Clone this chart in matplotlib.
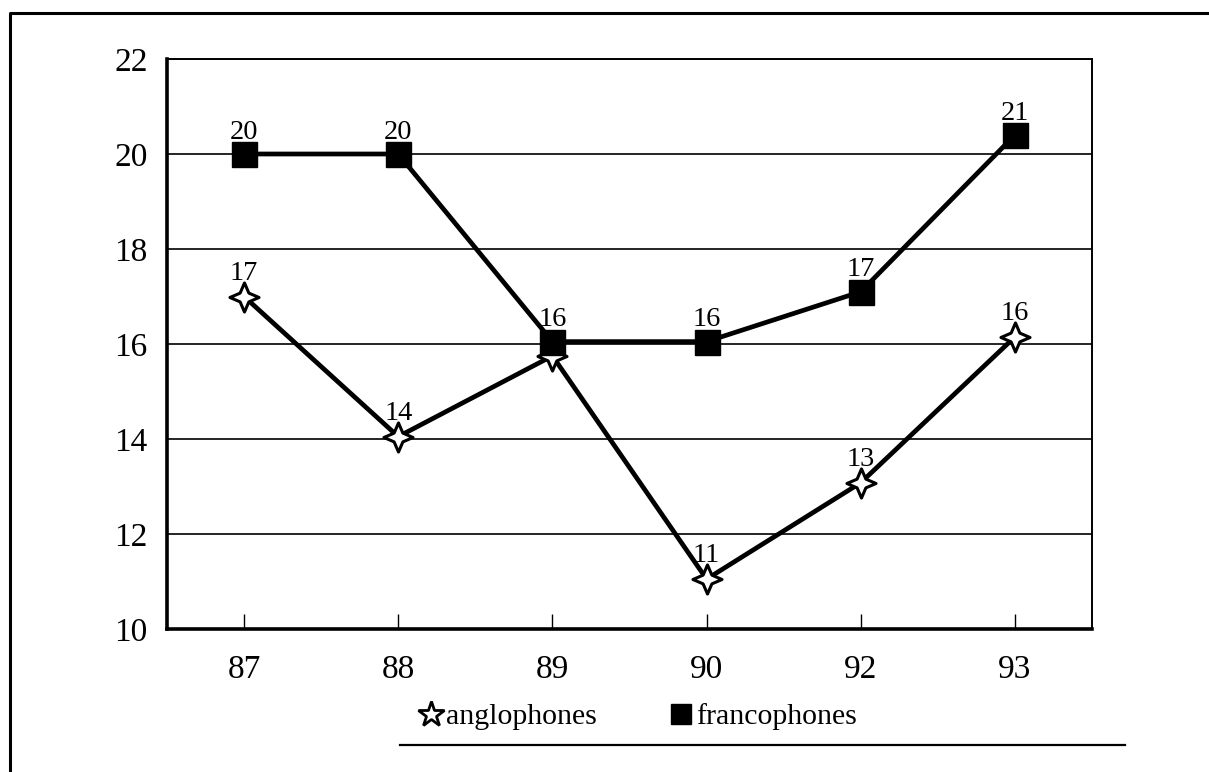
import matplotlib
matplotlib.use("Agg")
import matplotlib.pyplot as plt
from matplotlib.path import Path
from matplotlib.lines import Line2D

plt.rcParams['font.family'] = ['Liberation Serif', 'DejaVu Serif']

# data
years = ['87', '88', '89', '90', '92', '93']
anglophones = [17.0, 14.05, 15.75, 11.05, 13.08, 16.15]
francophones = [20.0, 20.0, 16.05, 16.05, 17.1, 20.4]
anglo_labels = ['17', '14', '', '11', '13', '16']
franco_labels = ['20', '20', '16', '16', '17', '21']
y_ticks = [10, 12, 14, 16, 18, 20, 22]

# four-pointed star marker
s = 0.3
star4 = Path([(0, 1), (s, s), (1, 0), (s, -s), (0, -1), (-s, -s), (-1, 0), (-s, s), (0, 1)],
             [Path.MOVETO] + [Path.LINETO] * 7 + [Path.CLOSEPOLY])

fig = plt.figure(figsize=(12.09, 7.72), dpi=100)
ax = fig.add_axes([167 / 1209, 1 - 629 / 772, 925 / 1209, 570 / 772])

x = list(range(len(years)))

ax.plot(x, anglophones, color='black', linewidth=3.4, marker=star4, markersize=21,
        markerfacecolor='white', markeredgecolor='black', markeredgewidth=2.2, zorder=3)
ax.plot(x, francophones, color='black', linewidth=3.4, marker='s', markersize=18,
        markerfacecolor='black', markeredgecolor='black', zorder=4)

for xi, v, lab in zip(x, anglophones, anglo_labels):
    ax.annotate(lab, (xi, v), xytext=(0, 12), textcoords='offset points',
                ha='center', va='baseline', fontsize=20.5, zorder=5)
for xi, v, lab in zip(x, francophones, franco_labels):
    ax.annotate(lab, (xi, v), xytext=(0, 11), textcoords='offset points',
                ha='center', va='baseline', fontsize=20.5, zorder=5)

ax.set_xlim(-0.5, len(years) - 0.5)
ax.set_ylim(10, 22)
ax.set_yticks(y_ticks)
ax.set_xticks(x)
ax.set_xticklabels(years)
ax.tick_params(axis='y', length=0, pad=14, labelsize=24)
ax.tick_params(axis='x', direction='in', length=11, width=1, pad=18, labelsize=24)
ax.yaxis.grid(True, color='black', linewidth=1.2)
ax.set_axisbelow(True)

for side in ['left', 'bottom']:
    ax.spines[side].set_linewidth(2.6)
for side in ['top', 'right']:
    ax.spines[side].set_linewidth(1.4)

# legend
handles = [
    Line2D([], [], linestyle='none', marker='*', markersize=19, markerfacecolor='white',
           markeredgecolor='black', markeredgewidth=2),
    Line2D([], [], linestyle='none', marker='s', markersize=14, color='black'),
]
fig.legend(handles, ['anglophones', 'francophones'], loc='center',
           bbox_to_anchor=(638 / 1209, 1 - 717 / 772), ncol=2, frameon=False,
           fontsize=21.5, handlelength=0.8, handletextpad=0.1, columnspacing=2.4)

# rule under legend and page border
fig.add_artist(Line2D([400 / 1209, 1125 / 1209], [1 - 745 / 772] * 2, color='black', linewidth=1.6))
fig.add_artist(Line2D([10 / 1209, 10 / 1209, 1.0], [0.0, 1 - 13 / 772, 1 - 13 / 772],
                      color='black', linewidth=2.2))

fig.savefig('out.png', dpi=100)
